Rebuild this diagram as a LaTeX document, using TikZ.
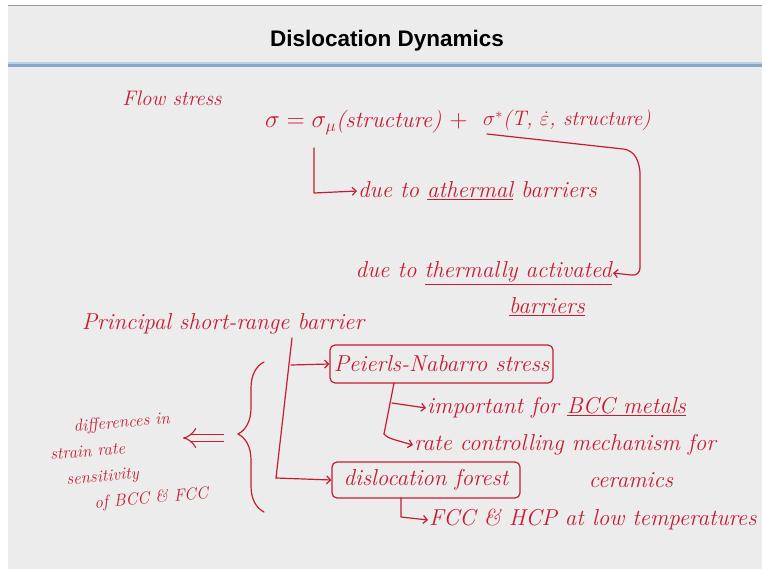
\documentclass[tikz,border=0pt]{standalone}
\usepackage{fontspec}
\newfontfamily\titlefont{Liberation Sans}
\usetikzlibrary{arrows.meta,decorations.pathreplacing}
\definecolor{ink}{RGB}{198,28,50}
\definecolor{bg}{RGB}{236,236,236}
\definecolor{rulecol}{RGB}{135,165,200}
\definecolor{rulelight}{RGB}{190,208,228}
\begin{document}
\begin{tikzpicture}[x=1pt,y=-1pt,
  hand/.style={text=ink, font=\itshape\fontsize{23}{27}\selectfont, inner sep=1pt},
  handsm/.style={text=ink, font=\itshape\fontsize{21}{25}\selectfont, inner sep=1pt},
  small/.style={text=ink, font=\itshape\fontsize{17}{26}\selectfont, inner sep=1pt},
  inkline/.style={draw=ink, line width=1.2pt, line cap=round, line join=round},
  arr/.style={inkline, -{Straight Barb[length=4pt,width=8pt]}},
  boxed/.style={hand, draw=ink, line width=1.2pt, rounded corners=5pt, inner sep=0pt}]
% background
\useasboundingbox (0,0) rectangle (762,569);
\fill[white] (0,0) rectangle (762,569);
\fill[bg] (8,6) rectangle (762,569);
\draw[gray!80, line width=1pt] (8,6) -- (762,6);
\draw[rulelight, line width=1.5pt] (8,63) -- (762,63);
\draw[rulecol, line width=3pt] (8,66) -- (762,66);
% title
\node[font=\titlefont\bfseries\fontsize{22.5}{26}\selectfont] (title) at (387,41) {Dislocation Dynamics};
% flow stress
\node[handsm] (flow) at (172,98) {Flow stress};
\node[hand, anchor=base west] (eqL) at (264,128) {$\sigma = \sigma_\mu$(structure) $+$};
\node[handsm, anchor=base west] (eqR) at (482,126) {$\sigma^{*}$(T, $\dot{\varepsilon}$, structure)};
\coordinate (mu) at (314,148);
\coordinate (sstar) at (487,134);
\node[hand, anchor=west] (ath) at (357,191) {due to \underline{athermal} barriers};
\node[hand, anchor=east] (therm) at (613,273) {due to \underline{thermally activated}};
\node[hand] (bar) at (547,307) {\underline{barriers}};
\draw[arr] (mu) -- (314,193) -- (ath.west);
\draw[arr, rounded corners=8pt] (sstar) -- (632,150) -- (640,165) -- (640,276) -- (therm.east);
% principal barrier
\node[hand] (prin) at (223,324) {Principal short-range barrier};
\node[boxed, minimum width=223pt, minimum height=38pt] (pn) at (441.5,364) {Peierls-Nabarro stress};
\node[boxed, minimum width=188pt, minimum height=36pt] (forest) at (426,480) {dislocation forest};
\coordinate (trunktop) at (292,338);
\coordinate (trunkbot) at (276,478);
\coordinate (trunkmid) at (291,365);
\draw[inkline] (trunktop) -- (trunkbot);
\draw[arr] (trunkmid) -- (pn.west);
\draw[arr] (trunkbot) -- (forest.west);
\node[hand, anchor=west] (imp) at (426,408) {important for \underline{BCC metals}};
\node[hand, anchor=west] (rate) at (413,445) {rate controlling mechanism for};
\node[hand] (cer) at (631,480) {ceramics};
\coordinate (pnb) at (394,383);
\coordinate (pnk) at (392,403);
\coordinate (pnl) at (384,434);
\draw[inkline] (pnb) -- (pnl);
\draw[arr] (pnk) -- (imp.west);
\draw[arr] (pnl) .. controls (388,438) .. (rate.west);
\node[hand, anchor=west] (fcc) at (428,520) {FCC \& HCP at low temperatures};
\coordinate (fb) at (401,498);
\draw[arr] (fb) -- (401,517) -- (fcc.west);
% brace and left text
\draw[inkline, decorate, decoration={brace, amplitude=26pt, aspect=0.52}] (264,512) -- (264,362);
\coordinate (cusp) at (224,438);
\coordinate (dtip) at (183,438);
\draw[draw=ink, line width=1.1pt, double=bg, double distance=6pt, -{Implies}] (cusp) -- (dtip);
\node[small, rotate=5, align=left] (diff) at (128,462)
  {\hspace*{26pt}differences in\\strain rate\\\hspace*{14pt}sensitivity\\\hspace*{40pt}of BCC \& FCC};
\end{tikzpicture}
\end{document}
